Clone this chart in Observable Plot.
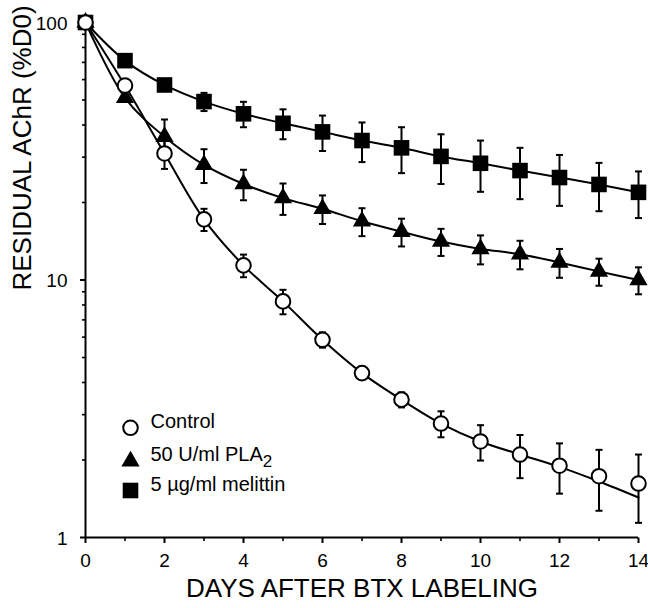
<!DOCTYPE html>
<html>
<head>
<meta charset="utf-8">
<script src="https://cdn.jsdelivr.net/npm/d3@7"></script>
<script src="https://cdn.jsdelivr.net/npm/@observablehq/plot@0.6"></script>
<style>
  html, body { margin: 0; padding: 0; background: #fff; }
  #chart { width: 648px; height: 608px; }
</style>
</head>
<body>
<div id="chart"></div>
<script>
// ---------- data ----------
const days = [0, 1, 2, 3, 4, 5, 6, 7, 8, 9, 10, 11, 12, 13, 14];

const control    = [100, 56.9, 31.0, 17.2, 11.4, 8.26, 5.86, 4.35, 3.43, 2.77, 2.36, 2.10, 1.90, 1.73, 1.62];
const controlErr = [0, 1.5, 4.0, 1.7, 1.15, 0.9, 0.4, 0.2, 0.23, 0.32, 0.37, 0.40, 0.42, 0.46, 0.48];
const controlFit = [100, 56.9, 31.0, 17.2, 11.4, 8.26, 5.86, 4.35, 3.43, 2.77, 2.36, 2.10, 1.88, 1.65, 1.43];

const pla2    = [100, 51.0, 36.0, 28.0, 23.6, 20.8, 18.9, 16.9, 15.4, 14.1, 13.2, 12.6, 11.7, 10.8, 10.0];
const pla2Err = [0, 0, 6.0, 4.2, 3.2, 2.9, 2.4, 2.1, 1.9, 1.7, 1.7, 1.6, 1.5, 1.3, 1.2];

const melittin    = [100, 71.1, 57.2, 49.3, 44.2, 40.6, 37.6, 34.8, 32.6, 30.2, 28.4, 26.6, 25.0, 23.5, 21.9];
const melittinErr = [0, 0, 0, 4.0, 5.0, 5.4, 5.9, 6.1, 6.6, 6.6, 6.4, 6.0, 5.6, 5.0, 4.5];

const seriesNames = ["Control", "50 U/ml PLA2", "5 µg/ml melittin"];
const xTickLabels = [0, 2, 4, 6, 8, 10, 12, 14];
const xMinorTicks = [1, 3, 5, 7, 9, 11, 13];
const yTickLabels = [1, 10, 100];
const yMinorTicks = [2, 3, 4, 5, 6, 7, 8, 9, 20, 30, 40, 50, 60, 70, 80, 90];
const xLabel = "DAYS AFTER BTX LABELING";
const yLabel = "RESIDUAL AChR (%D0)";

// ---------- tables ----------
const seriesValues = [control, pla2, melittin];
const seriesErrs = [controlErr, pla2Err, melittinErr];
const seriesLines = [controlFit, pla2, melittin];

const points = seriesNames.flatMap((name, s) =>
  days.map((d, i) => ({series: name, day: d, value: seriesValues[s][i], err: seriesErrs[s][i]})));
const errRows = points.filter(p => p.err > 0).map(p => ({...p, lo: p.value - p.err, hi: p.value + p.err}));
const lineRows = seriesNames.flatMap((name, s) =>
  days.map((d, i) => ({series: name, day: d, value: seriesLines[s][i]})));

// ---------- symbols ----------
const capSymbol = {draw(ctx, size) { const r = Math.sqrt(size / Math.PI); ctx.moveTo(-r, 0); ctx.lineTo(r, 0); }};
const tickDown = {draw(ctx, size) { const r = Math.sqrt(size / Math.PI); ctx.moveTo(0, 0); ctx.lineTo(0, r); }};
const tickLeft = {draw(ctx, size) { const r = Math.sqrt(size / Math.PI); ctx.moveTo(0, 0); ctx.lineTo(-r, 0); }};

const styleOf = {
  "Control": {symbol: "circle", r: 7.3, fill: "white", stroke: "black", strokeWidth: 2},
  "50 U/ml PLA2": {symbol: "triangle", r: 5.8, fill: "black", stroke: "black", strokeWidth: 1.5},
  "5 µg/ml melittin": {symbol: "square", r: 8.8, fill: "black", stroke: "none", strokeWidth: 0}
};
const drawOrder = ["5 µg/ml melittin", "50 U/ml PLA2", "Control"];
const legendDy = [-109.7, -76.3, -47];

const marks = [
  // axis lines
  Plot.ruleX([0], {stroke: "black", strokeWidth: 2}),
  Plot.ruleY([1], {stroke: "black", strokeWidth: 2}),
  // ticks
  Plot.dot(xTickLabels, {x: d => d, y: () => 1, symbol: tickDown, r: 5.5, stroke: "black", strokeWidth: 2, fill: "none"}),
  Plot.dot(xMinorTicks, {x: d => d, y: () => 1, symbol: tickDown, r: 3.5, stroke: "black", strokeWidth: 1.6, fill: "none"}),
  Plot.dot(yTickLabels, {x: () => 0, y: d => d, symbol: tickLeft, r: 5.5, stroke: "black", strokeWidth: 2, fill: "none"}),
  Plot.dot(yMinorTicks, {x: () => 0, y: d => d, symbol: tickLeft, r: 3.5, stroke: "black", strokeWidth: 1.6, fill: "none"}),
  // tick labels
  Plot.text(xTickLabels, {x: d => d, y: () => 1, text: d => String(d), dy: 23, fontSize: 19, fill: "black"}),
  Plot.text(yTickLabels, {x: () => 0, y: d => d, text: d => String(d), textAnchor: "end", dx: -18, dy: 1, fontSize: 19, fill: "black"}),
  // axis titles
  Plot.text([xLabel], {frameAnchor: "bottom", text: d => d, dy: 59, fontSize: 26, fill: "black"}),
  Plot.text([yLabel], {frameAnchor: "left", text: d => d, rotate: -90, dx: -63, dy: 10.5, fontSize: 26, fill: "black"}),
  // error bars
  Plot.ruleX(errRows, {x: "day", y1: "lo", y2: "hi", stroke: "black", strokeWidth: 2}),
  Plot.dot(errRows, {x: "day", y: "lo", symbol: capSymbol, r: 3.5, stroke: "black", strokeWidth: 2, fill: "none"}),
  Plot.dot(errRows, {x: "day", y: "hi", symbol: capSymbol, r: 3.5, stroke: "black", strokeWidth: 2, fill: "none"}),
  // fitted curves
  Plot.line(lineRows, {x: "day", y: "value", z: "series", curve: "catmull-rom", stroke: "black", strokeWidth: 2}),
  // markers
  ...drawOrder.map(name => Plot.dot(points.filter(p => p.series === name), {x: "day", y: "value", ...styleOf[name]})),
  // legend
  ...seriesNames.map((name, i) => Plot.dot([name], {frameAnchor: "bottom-left", dx: 45, dy: legendDy[i], ...styleOf[name]})),
  ...seriesNames.map((name, i) => Plot.text([name], {frameAnchor: "bottom-left", text: d => d, textAnchor: "start", dx: 65, dy: legendDy[i], fontSize: 20, fill: "black"}))
];

const svg = Plot.plot({
  width: 648,
  height: 608,
  marginLeft: 85,
  marginRight: 10,
  marginTop: 22,
  marginBottom: 71,
  style: {fontFamily: "'Liberation Sans', Arial, Helvetica, sans-serif", background: "white", color: "black"},
  x: {domain: [0, 14], axis: null},
  y: {type: "log", domain: [1, 100], axis: null},
  marks
});

// subscript "2" in PLA2
svg.querySelectorAll("text").forEach(t => {
  if (t.textContent === "50 U/ml PLA2") {
    t.textContent = "50 U/ml PLA";
    const ts = document.createElementNS("http://www.w3.org/2000/svg", "tspan");
    ts.setAttribute("dy", "6");
    ts.setAttribute("font-size", "17");
    ts.textContent = "2";
    t.appendChild(ts);
  }
});

document.getElementById("chart").appendChild(svg);
</script>
</body>
</html>
